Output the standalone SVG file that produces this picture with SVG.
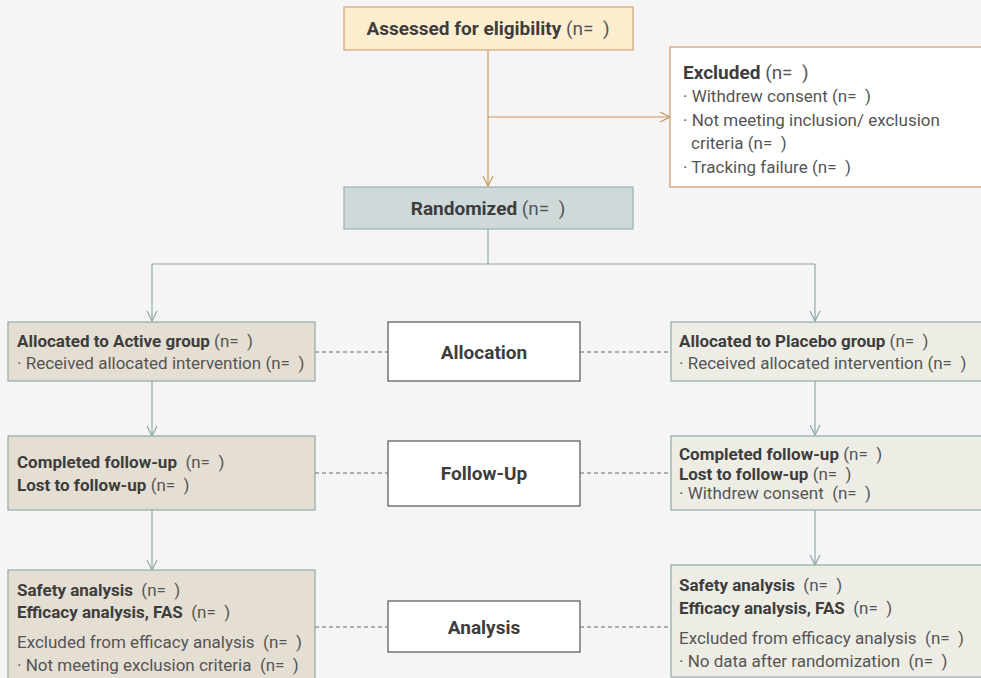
<svg xmlns="http://www.w3.org/2000/svg" width="981" height="678" viewBox="0 0 981 678" xml:space="preserve">
<style>
text{font-family:Roboto,"Liberation Sans",sans-serif;font-size:17px;fill:#3d3d3d;white-space:pre}
.b{font-weight:bold}
.n{font-weight:normal;fill:#555}
.c{text-anchor:middle}
.big{font-size:19px}
.top{fill:#fdeecf;stroke:#d4a373;stroke-width:1.2}
.exc{fill:#ffffff;stroke:#c99a6c;stroke-width:1.2}
.rnd{fill:#cfd9d9;stroke:#9ab0b0;stroke-width:1.2}
.act{fill:#e4ded3;stroke:#92a9a9;stroke-width:1.2}
.plc{fill:#ededE6;stroke:#92a9a9;stroke-width:1.2}
.stg{fill:#ffffff;stroke:#555555;stroke-width:1.2}
.lo{fill:none;stroke:#c9965f;stroke-width:1.2}
.lg{fill:none;stroke:#8fa8a8;stroke-width:1.2}
.ld{fill:none;stroke:#666;stroke-width:1;stroke-dasharray:4 3}
</style>
<defs>
<marker id="ao" viewBox="0 0 12 12" refX="11" refY="6" markerWidth="12" markerHeight="12" markerUnits="userSpaceOnUse" orient="auto"><path d="M1,1 L11,6 L1,11" fill="none" stroke="#c9965f" stroke-width="1.2"/></marker>
<marker id="ag" viewBox="0 0 12 12" refX="11" refY="6" markerWidth="12" markerHeight="12" markerUnits="userSpaceOnUse" orient="auto"><path d="M1,1 L11,6 L1,11" fill="none" stroke="#8fa8a8" stroke-width="1.2"/></marker>
</defs>
<rect width="981" height="678" fill="#f5f5f5"/>
<g id="connectors">
<path class="lo" d="M488,50 V186" marker-end="url(#ao)"/>
<path class="lo" d="M488,117 H670" marker-end="url(#ao)"/>
<path class="lg" d="M488,229 V264"/>
<path class="lg" d="M152,264 H815"/>
<path class="lg" d="M152,264 V321" marker-end="url(#ag)"/>
<path class="lg" d="M815,264 V321" marker-end="url(#ag)"/>
<path class="lg" d="M152,381 V436" marker-end="url(#ag)"/>
<path class="lg" d="M815,381 V435" marker-end="url(#ag)"/>
<path class="lg" d="M152,510 V570" marker-end="url(#ag)"/>
<path class="lg" d="M815,510 V565" marker-end="url(#ag)"/>
<path class="ld" d="M315,352 H388 M580,352 H670"/>
<path class="ld" d="M315,473 H388 M580,473 H670"/>
<path class="ld" d="M315,627 H388 M580,627 H670"/>
</g>
<g id="assessed">
<rect class="top" x="344" y="7" width="289" height="43"/>
<text class="c big" x="488" y="35"><tspan class="b">Assessed for eligibility</tspan> <tspan class="n">(n=  )</tspan></text>
</g>
<g id="excluded">
<rect class="exc" x="670" y="47" width="320" height="140"/>
<text x="683" y="79" class="big"><tspan class="b">Excluded</tspan> <tspan class="n">(n=  )</tspan></text>
<text x="683" y="102" class="n">· Withdrew consent (n=  )</text>
<text x="683" y="126" class="n">· Not meeting inclusion/ exclusion</text>
<text x="691" y="149" class="n">criteria (n=  )</text>
<text x="683" y="173" class="n">· Tracking failure (n=  )</text>
</g>
<g id="randomized">
<rect class="rnd" x="344" y="187" width="289" height="42"/>
<text class="c big" x="488" y="215"><tspan class="b">Randomized</tspan> <tspan class="n">(n=  )</tspan></text>
</g>
<g id="alloc-active">
<rect class="act" x="8" y="322" width="307" height="59"/>
<text x="17" y="347"><tspan class="b">Allocated to Active group</tspan> <tspan class="n">(n=  )</tspan></text>
<text x="17" y="369" class="n">· Received allocated intervention (n=  )</text>
</g>
<g id="allocation">
<rect class="stg" x="388" y="322" width="192" height="59"/>
<text class="c b big" x="484" y="359">Allocation</text>
</g>
<g id="alloc-placebo">
<rect class="plc" x="671" y="322" width="320" height="59"/>
<text x="679" y="347"><tspan class="b">Allocated to Placebo group</tspan> <tspan class="n">(n=  )</tspan></text>
<text x="679" y="369" class="n">· Received allocated intervention (n=  )</text>
</g>
<g id="fu-active">
<rect class="act" x="8" y="436" width="307" height="74"/>
<text x="17" y="468"><tspan class="b">Completed follow-up</tspan>  <tspan class="n">(n=  )</tspan></text>
<text x="17" y="491"><tspan class="b">Lost to follow-up</tspan> <tspan class="n">(n=  )</tspan></text>
</g>
<g id="followup">
<rect class="stg" x="388" y="441" width="192" height="65"/>
<text class="c b big" x="484" y="480">Follow-Up</text>
</g>
<g id="fu-placebo">
<rect class="plc" x="671" y="436" width="320" height="74"/>
<text x="679" y="460"><tspan class="b">Completed follow-up</tspan> <tspan class="n">(n=  )</tspan></text>
<text x="679" y="480"><tspan class="b">Lost to follow-up</tspan> <tspan class="n">(n=  )</tspan></text>
<text x="679" y="499" class="n">· Withdrew consent  (n=  )</text>
</g>
<g id="an-active">
<rect class="act" x="8" y="570" width="307" height="120"/>
<text x="17" y="596"><tspan class="b">Safety analysis</tspan>  <tspan class="n">(n=  )</tspan></text>
<text x="17" y="618"><tspan class="b">Efficacy analysis, FAS</tspan>  <tspan class="n">(n=  )</tspan></text>
<text x="17" y="648" class="n">Excluded from efficacy analysis  (n=  )</text>
<text x="17" y="671" class="n">· Not meeting exclusion criteria  (n=  )</text>
</g>
<g id="analysis">
<rect class="stg" x="388" y="601" width="192" height="51"/>
<text class="c b big" x="484" y="634">Analysis</text>
</g>
<g id="an-placebo">
<rect class="plc" x="671" y="565" width="320" height="112"/>
<text x="679" y="591"><tspan class="b">Safety analysis</tspan>  <tspan class="n">(n=  )</tspan></text>
<text x="679" y="614"><tspan class="b">Efficacy analysis, FAS</tspan>  <tspan class="n">(n=  )</tspan></text>
<text x="679" y="644" class="n">Excluded from efficacy analysis  (n=  )</text>
<text x="679" y="667" class="n">· No data after randomization  (n=  )</text>
</g>
</svg>
